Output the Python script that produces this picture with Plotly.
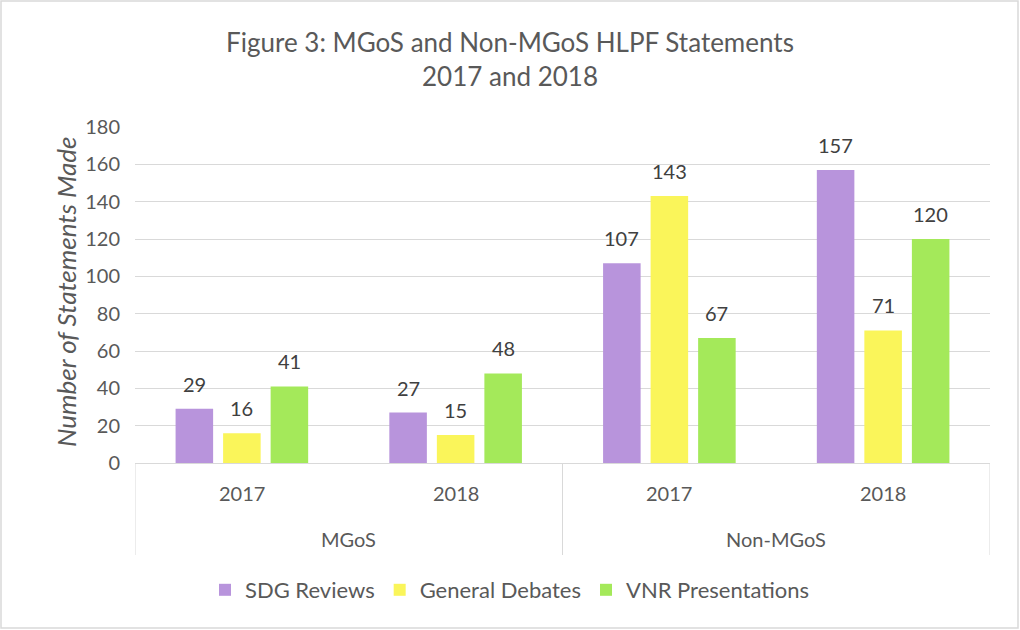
import plotly.graph_objects as go

groups = ["MGoS", "MGoS", "Non-MGoS", "Non-MGoS"]
years = ["2017", "2018", "2017", "2018"]
series_names = ["SDG Reviews", "General Debates", "VNR Presentations"]
sdg_reviews = [29, 27, 107, 157]
general_debates = [16, 15, 143, 71]
vnr_presentations = [41, 48, 67, 120]
colors = ["#B894DC", "#FAF55A", "#A4E95A"]
y_ticks = [0, 20, 40, 60, 80, 100, 120, 140, 160, 180]

cats = [f"{g} {y}" for g, y in zip(groups, years)]
FONT = "Lato, 'Open Sans', sans-serif"
TXT = "#595959"
BARGAP = 0.333
GROUPGAP = 0.21
all_series = [sdg_reviews, general_debates, vnr_presentations]

fig = go.Figure()
for name, vals, col in zip(series_names, all_series, colors):
    fig.add_trace(go.Bar(
        x=cats, y=vals, name=name, marker=dict(color=col, line=dict(width=0)),
    ))

L, R, T, B = 135, 30, 127, 167
W, H = 1020, 630
pw, ph = W - L - R, H - T - B

def px_x(p):
    return (p - L) / pw

def px_y(p):
    return (H - B - p) / ph

shapes = []
for xv in [-0.5, 1.5, 3.5]:
    shapes.append(dict(type="line", xref="x", yref="paper", x0=xv, x1=xv, y0=0, y1=px_y(555),
                       line=dict(color="#d9d9d9", width=1)))
shapes.append(dict(type="rect", xref="paper", yref="paper", x0=px_x(1), x1=px_x(W - 2), y0=px_y(1), y1=px_y(H - 2),
                   line=dict(color="#d9d9d9", width=1.5), fillcolor="rgba(0,0,0,0)"))

annotations = []
# data labels above bars
n = len(all_series)
slot = (1 - BARGAP) / n
for k, vals in enumerate(all_series):
    for i, v in enumerate(vals):
        annotations.append(dict(x=i + (k - (n - 1) / 2) * slot, y=v, xref="x", yref="y", text=str(v),
                                showarrow=False, yanchor="middle", yshift=25,
                                font=dict(size=20, color="#404040", family=FONT)))
for i, y in enumerate(years):
    annotations.append(dict(x=i, y=px_y(493), xref="x", yref="paper", text=y, showarrow=False,
                            yanchor="middle", font=dict(size=20, color=TXT, family=FONT)))
seen = []
for g in groups:
    if g not in seen:
        seen.append(g)
for g in seen:
    idx = [i for i, gg in enumerate(groups) if gg == g]
    annotations.append(dict(x=sum(idx) / len(idx), y=px_y(539), xref="x", yref="paper", text=g, showarrow=False,
                            yanchor="middle", font=dict(size=20, color=TXT, family=FONT)))
annotations.append(dict(x=px_x(48), y=px_y(292), xref="paper", yref="paper", text="<i>Number of Statements Made</i>",
                        textangle=-90, showarrow=False, font=dict(size=26, color=TXT, family=FONT)))

fig.update_layout(
    width=W, height=H,
    margin=dict(l=L, r=R, t=T, b=B),
    paper_bgcolor="white", plot_bgcolor="white",
    title=dict(text="Figure 3: MGoS and Non-MGoS HLPF Statements<br>2017 and 2018", x=0.5, xanchor="center",
               y=1 - 52 / H, yanchor="middle", font=dict(size=26, color=TXT, family=FONT)),
    barmode="group", bargap=BARGAP, bargroupgap=GROUPGAP,
    font=dict(family=FONT, color=TXT),
    showlegend=True,
    legend=dict(orientation="h", x=px_x(510), xanchor="center", y=px_y(590), yanchor="middle",
                font=dict(size=22, color=TXT, family=FONT), traceorder="normal", itemwidth=30),
    shapes=shapes, annotations=annotations,
)
fig.update_xaxes(showticklabels=False, showgrid=False, showline=True, linecolor="#d9d9d9", linewidth=1,
                 range=[-0.5, 3.5], ticks="", zeroline=False)
fig.update_yaxes(range=[0, 180], tickvals=y_ticks, showgrid=True, gridcolor="#d9d9d9", gridwidth=1,
                 zeroline=False, showline=False, tickfont=dict(size=20, color=TXT, family=FONT), ticks="",
                 ticklabelstandoff=14)

fig.write_html("out.html", config={"displayModeBar": False},
               post_script="document.body.style.margin='0px';document.body.style.overflow='hidden';")
